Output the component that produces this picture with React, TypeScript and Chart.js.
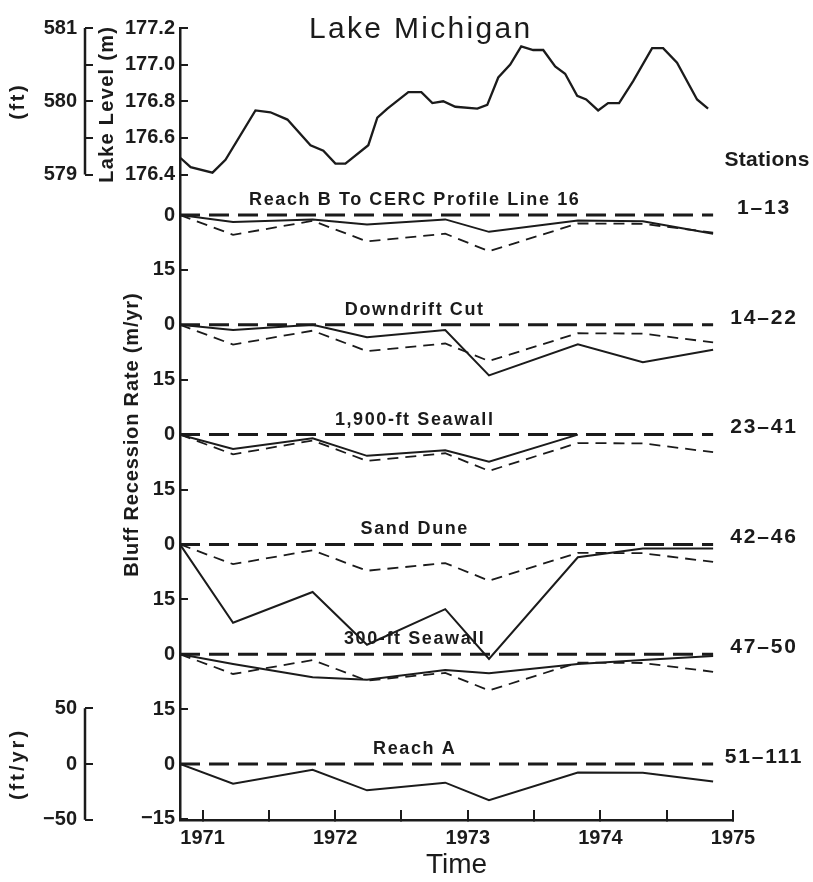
import React, { useEffect, useRef } from 'react';
import { Chart, registerables } from 'chart.js';

Chart.register(...registerables);

const INK = '#1b1b1b';
const FONT = '"Liberation Sans", Arial, Helvetica, sans-serif';

// ---------------- data ----------------
// Lake Michigan lake level (m)
const lakeTime = [
  1970.834, 1970.91, 1971.075, 1971.173, 1971.399, 1971.512, 1971.64, 1971.814, 1971.911, 1972.002,
  1972.077, 1972.25, 1972.318, 1972.394, 1972.552, 1972.65, 1972.733, 1972.815, 1972.906, 1973.072,
  1973.147, 1973.23, 1973.32, 1973.403, 1973.493, 1973.569, 1973.659, 1973.734, 1973.825, 1973.893,
  1973.983, 1974.058, 1974.141, 1974.247, 1974.39, 1974.473, 1974.578, 1974.729, 1974.812,
];
const lakeLevel = [
  176.49, 176.44, 176.41, 176.48, 176.75, 176.74, 176.7, 176.56, 176.53, 176.46,
  176.46, 176.56, 176.71, 176.76, 176.85, 176.85, 176.79, 176.8, 176.77, 176.76,
  176.78, 176.93, 177.0, 177.1, 177.08, 177.08, 176.99, 176.95, 176.83, 176.81,
  176.75, 176.79, 176.79, 176.91, 177.09, 177.09, 177.01, 176.81, 176.76,
];

// Survey dates and bluff recession rates (m/yr, negative = recession)
const surveyTime = [1970.83, 1971.23, 1971.83, 1972.24, 1972.83, 1973.16, 1973.83, 1974.32, 1974.85];
const reachB = [0, -1.9, -1.2, -2.6, -1.2, -4.6, -1.5, -1.7, -5.1];
const downdriftCut = [0, -1.4, 0, -3.4, -1.4, -13.8, -5.3, -10.2, -6.8];
const seawall1900 = [0, -3.9, -1.0, -5.8, -4.3, -7.4, 0, null, null];
const sandDune = [0, -21.4, -13.0, -27.4, -17.7, -31.3, -3.5, -1.1, -1.1];
const seawall300 = [0, -2.7, -6.3, -7.0, -4.3, -5.2, -2.7, -1.6, -0.5];
const reachA = [0, -5.4, -1.6, -7.2, -5.1, -9.9, -2.3, -2.4, -4.8];

const panelNames = [
  'Reach B To CERC Profile Line 16',
  'Downdrift Cut',
  '1,900-ft Seawall',
  'Sand Dune',
  '300-ft Seawall',
  'Reach A',
];
const stationRanges = ['1–13', '14–22', '23–41', '42–46', '47–50', '51–111'];
const panelSeries = [reachB, downdriftCut, seawall1900, sandDune, seawall300, reachA];

// tick values
const yearTicks = [1971, 1971.5, 1972, 1972.5, 1973, 1973.5, 1974, 1974.5, 1975];
const lakeTicksM = [176.4, 176.6, 176.8, 177.0, 177.2];
const lakeTicksFt = [579, 579.5, 580, 580.5, 581];
const rateTicks = [0, -15];
const ftYrTicks = [-50, 0, 50];

// ---------------- geometry of the stacked axes ----------------
const X_MIN = 1970.83;
const X_MAX = 1975;
const PANEL_STEP = 30; // m/yr between stacked panel baselines
const REC_TOP = 51.1; // panel-0 value at top of plot
const REC_BOTTOM = -165.3; // panel-0 value at bottom of plot
const LAKE_FRAC = 0.185; // share of plot height for the lake-level panel
const M_PER_FT = 0.3048;
const TITLE_X = 1972.6;

const mMax = Math.max(...lakeTicksM);
const mSpan = mMax - Math.min(...lakeTicksM);
const ftMax = Math.max(...lakeTicksFt);
const ftSpan = ftMax - Math.min(...lakeTicksFt);
const lastPanel = panelSeries.length - 1;

const pts = (series: (number | null)[]) => surveyTime.map((t, i) => ({ x: t, y: series[i] }));

function drawText(
  ctx: CanvasRenderingContext2D,
  text: string,
  x: number,
  y: number,
  size: number,
  o: {
    align?: CanvasTextAlign;
    baseline?: CanvasTextBaseline;
    spacing?: number;
    rotate?: boolean;
    bold?: boolean;
  } = {}
) {
  ctx.save();
  ctx.font = `${o.bold ? 'bold ' : ''}${size}px ${FONT}`;
  (ctx as any).letterSpacing = (o.spacing || 0) + 'px';
  ctx.textAlign = o.align || 'center';
  ctx.textBaseline = o.baseline || 'alphabetic';
  ctx.fillStyle = INK;
  ctx.translate(x, y);
  if (o.rotate) ctx.rotate(-Math.PI / 2);
  ctx.fillText(text, 0, 0);
  ctx.restore();
}

const figurePlugin = {
  id: 'figureText',
  beforeDraw(chart: any) {
    const ctx = chart.ctx;
    ctx.save();
    ctx.fillStyle = '#ffffff';
    ctx.fillRect(0, 0, chart.width, chart.height);
    ctx.restore();
  },
  afterDraw(chart: any) {
    const ctx: CanvasRenderingContext2D = chart.ctx;
    const sc = chart.scales;
    // partial axis spines (ft and ft/yr)
    ctx.save();
    ctx.strokeStyle = INK;
    ctx.lineWidth = 2.5;
    const spine = (s: any, a: number, b: number) => {
      ctx.beginPath();
      ctx.moveTo(s.right, s.getPixelForValue(a));
      ctx.lineTo(s.right, s.getPixelForValue(b));
      ctx.stroke();
    };
    spine(sc.ft, Math.max(...lakeTicksFt), Math.min(...lakeTicksFt));
    spine(sc.ftyr, Math.max(...ftYrTicks), Math.min(...ftYrTicks));
    ctx.restore();

    const lakeTop = sc.m.getPixelForValue(mMax);
    const lakeBot = sc.m.getPixelForValue(mMax - mSpan);
    const lakeMid = (lakeTop + lakeBot) / 2;
    const titleX = sc.x.getPixelForValue(TITLE_X);

    drawText(ctx, 'Lake Michigan', titleX + 6, lakeTop + 10, 30, { spacing: 2.3 });
    drawText(ctx, '(ft)', 18, lakeMid, 20, { rotate: true, baseline: 'middle', spacing: 2.6, bold: true });
    drawText(ctx, 'Lake Level (m)', 107, lakeMid + 3, 20, { rotate: true, baseline: 'middle', spacing: 1.3, bold: true });
    drawText(ctx, '(ft/yr)', 18, sc.ftyr.getPixelForValue(0), 20, {
      rotate: true,
      baseline: 'middle',
      spacing: 3,
      bold: true,
    });
    drawText(ctx, 'Bluff Recession Rate (m/yr)', 132, sc.p2.getPixelForValue(0), 20, {
      rotate: true,
      baseline: 'middle',
      spacing: 0.85,
      bold: true,
    });

    const zero0 = sc.p0.getPixelForValue(0);
    drawText(ctx, 'Stations', 767, zero0 - 55, 21, { baseline: 'middle', spacing: 0.3, bold: true });
    panelNames.forEach((name, k) => {
      const z = sc['p' + k].getPixelForValue(0);
      drawText(ctx, name, titleX, z - 10, 18, { spacing: 1.6, bold: true });
      drawText(ctx, stationRanges[k], 764, z - 7, 21, { baseline: 'middle', spacing: 1.8, bold: true });
    });
  },
};

const tickFont = { family: FONT, size: 20, weight: 'bold' };
const tickGrid = (len: number) => ({
  display: true,
  drawOnChartArea: false,
  drawTicks: true,
  tickLength: len,
  color: INK,
  lineWidth: 2,
});
const setTicks = (vals: number[]) => (s: any) => {
  s.ticks = vals.map((v) => ({ value: v }));
};
// zero-width axis that shares its spine with a neighbour: keep its labels unclipped
const zeroWidth = (s: any) => {
  s.width = 0;
  s._computeLabelArea = () => undefined;
};
const minus = (v: number) => String(v).replace('-', '−');

function buildConfig(): any {
  const datasets: any[] = [
    {
      label: 'Lake level',
      yAxisID: 'm',
      data: lakeTime.map((t, i) => ({ x: t, y: lakeLevel[i] })),
      borderColor: INK,
      borderWidth: 2.3,
      pointRadius: 0,
      tension: 0,
      fill: false,
    },
  ];
  panelSeries.forEach((series, k) => {
    const yAxisID = 'p' + k;
    datasets.push({
      label: 'zero ' + k,
      yAxisID,
      data: [
        { x: surveyTime[0], y: 0 },
        { x: surveyTime[surveyTime.length - 1], y: 0 },
      ],
      borderColor: INK,
      borderWidth: 3,
      borderDash: [20, 9],
      pointRadius: 0,
      fill: false,
    });
    if (k !== lastPanel) {
      datasets.push({
        label: 'Reach A ref ' + k,
        yAxisID,
        data: pts(reachA),
        borderColor: INK,
        borderWidth: 1.8,
        borderDash: [11, 7],
        pointRadius: 0,
        fill: false,
      });
    }
    datasets.push({
      label: panelNames[k],
      yAxisID,
      data: pts(series),
      borderColor: INK,
      borderWidth: 2,
      pointRadius: 0,
      fill: false,
      spanGaps: false,
    });
  });

  const recTicks: number[] = [];
  panelSeries.forEach((_, k) => rateTicks.forEach((v) => recTicks.push(v - PANEL_STEP * k)));

  const scales: any = {
    x: {
      type: 'linear',
      position: 'bottom',
      min: X_MIN,
      max: X_MAX,
      afterBuildTicks: setTicks(yearTicks),
      afterFit: (s: any) => {
        s.height = 62;
      },
      ticks: {
        autoSkip: false,
        maxRotation: 0,
        padding: 16,
        color: INK,
        font: tickFont,
        callback: (v: number) => (Number.isInteger(v) ? String(v) : ''),
      },
      grid: tickGrid(-10),
      border: { display: true, color: INK, width: 2.5 },
      title: {
        display: true,
        text: 'Time',
        color: INK,
        font: { family: FONT, size: 28 },
        padding: { top: 0, bottom: 0 },
      },
    },
    ft: {
      type: 'linear',
      axis: 'y',
      position: 'left',
      weight: 4,
      min: ftMax - ftSpan / LAKE_FRAC,
      max: ftMax,
      afterBuildTicks: setTicks(lakeTicksFt),
      afterFit: (s: any) => {
        s.width = 85;
      },
      ticks: {
        autoSkip: false,
        padding: 16,
        color: INK,
        font: tickFont,
        callback: (v: number) => (Number.isInteger(v) ? String(v) : ''),
      },
      grid: tickGrid(-8),
      border: { display: false },
    },
    ftyr: {
      type: 'linear',
      axis: 'y',
      position: 'left',
      weight: 3,
      min: (REC_BOTTOM + PANEL_STEP * lastPanel) / M_PER_FT,
      max: (REC_TOP + PANEL_STEP * lastPanel) / M_PER_FT,
      afterBuildTicks: setTicks(ftYrTicks),
      afterFit: zeroWidth,
      ticks: { autoSkip: false, padding: 16, color: INK, font: tickFont, callback: (v: number) => minus(v) },
      grid: tickGrid(-8),
      border: { display: false },
    },
    m: {
      type: 'linear',
      axis: 'y',
      position: 'left',
      weight: 2,
      min: mMax - mSpan / LAKE_FRAC,
      max: mMax,
      afterBuildTicks: setTicks(lakeTicksM),
      afterFit: (s: any) => {
        s.width = 95;
      },
      ticks: { autoSkip: false, padding: 13, color: INK, font: tickFont, callback: (v: number) => v.toFixed(1) },
      grid: tickGrid(-8),
      border: { display: false },
    },
    p0: {
      type: 'linear',
      axis: 'y',
      position: 'left',
      weight: 1,
      min: REC_BOTTOM,
      max: REC_TOP,
      afterBuildTicks: setTicks(recTicks),
      afterFit: zeroWidth,
      ticks: {
        autoSkip: false,
        padding: 13,
        color: INK,
        font: tickFont,
        callback: (v: number) => {
          const r = Math.round(v);
          if (r % PANEL_STEP === 0) return '0';
          return r === rateTicks[1] - PANEL_STEP * lastPanel ? minus(rateTicks[1]) : String(-rateTicks[1]);
        },
      },
      grid: tickGrid(-8),
      border: { display: true, color: INK, width: 2.5 },
    },
  };
  for (let k = 1; k <= lastPanel; k++) {
    scales['p' + k] = {
      type: 'linear',
      axis: 'y',
      position: 'left',
      weight: 0,
      display: false,
      min: REC_BOTTOM + PANEL_STEP * k,
      max: REC_TOP + PANEL_STEP * k,
    };
  }

  return {
    type: 'line',
    data: { datasets },
    options: {
      responsive: false,
      animation: false,
      devicePixelRatio: 1,
      layout: { padding: { top: 25, right: 80, bottom: 0, left: 0 } },
      plugins: { legend: { display: false }, tooltip: { enabled: false } },
      elements: { point: { radius: 0 }, line: { borderCapStyle: 'butt', borderJoinStyle: 'miter' } },
      scales,
    },
    plugins: [figurePlugin],
  };
}

export default function App() {
  const ref = useRef<HTMLCanvasElement>(null);
  useEffect(() => {
    if (!ref.current) return;
    const chart = new Chart(ref.current, buildConfig());
    return () => chart.destroy();
  }, []);
  return (
    <canvas
      ref={ref}
      width={813}
      height={882}
      style={{ position: 'absolute', left: 0, top: 0, width: 813, height: 882, background: '#fff' }}
    />
  );
}
